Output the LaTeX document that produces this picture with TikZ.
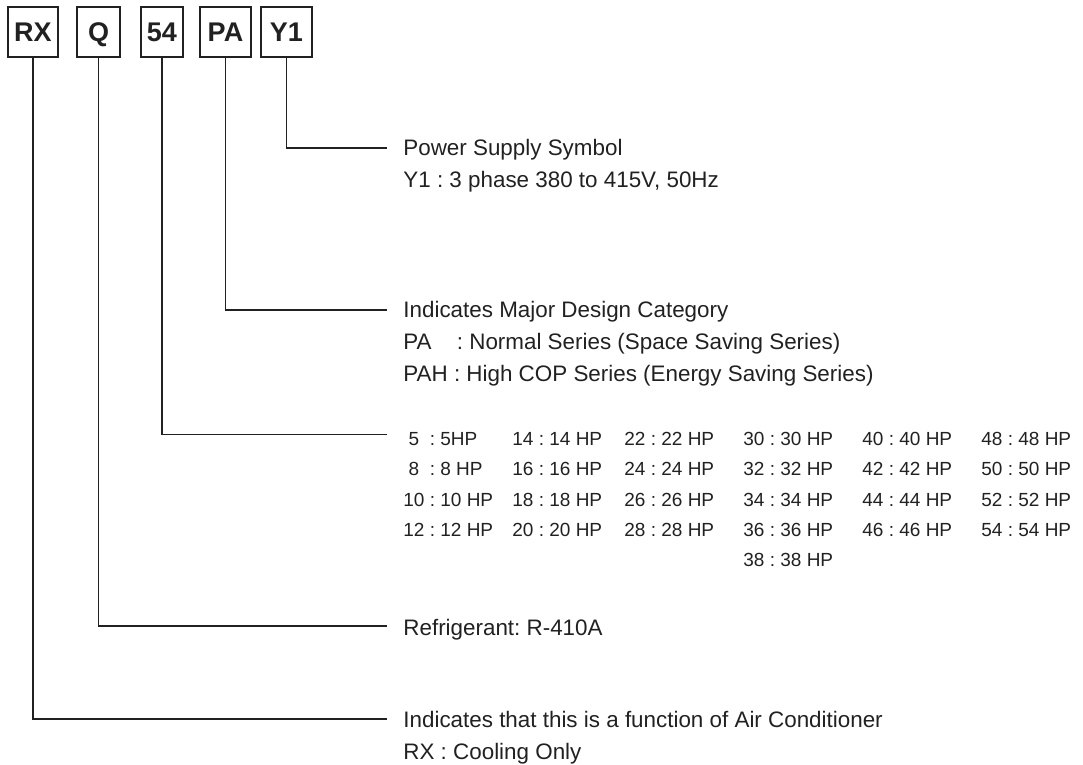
\documentclass[tikz,border=0pt]{standalone}
\usepackage{fontspec}
\setmainfont{Liberation Sans}
\usepackage{xcolor}
\usetikzlibrary{positioning}
\frenchspacing
\definecolor{inkgray}{gray}{0.13}
\tikzset{%
	codebox/.style = {draw=inkgray, line width=0.9pt, rectangle, minimum height=25pt, inner sep=0pt, text height=9.7pt, text depth=0pt, text=inkgray, font=\fontsize{13.5}{16}\selectfont\bfseries},
	link/.style    = {draw=inkgray, line width=0.8pt},
	desc/.style    = {anchor=base west, inner sep=0pt, text=inkgray, font=\fontsize{11.2}{16}\selectfont},
	hpentry/.style = {anchor=base west, inner sep=0pt, text=inkgray, font=\fontsize{9.5}{15}\selectfont},
}
\begin{document}
\begin{tikzpicture}[x=0.5pt,y=-0.5pt]
	\useasboundingbox (0,0) rectangle (1083,765);
	
	\node[codebox,minimum width=25pt]   (rx) at (33,32)    {RX};
	\node[codebox,minimum width=21.5pt] (q)  at (98.5,32)  {Q};
	\node[codebox,minimum width=21pt]   (hp) at (162,32)   {54};
	\node[codebox,minimum width=25.5pt] (pa) at (225.5,32) {PA};
	\node[codebox,minimum width=25.5pt] (y1) at (286.5,32) {Y1};
	
	\coordinate (y1end) at (387,148);
	\coordinate (paend) at (387,310);
	\coordinate (hpend) at (387,434.5);
	\coordinate (qend)  at (387,626);
	\coordinate (rxend) at (387,719);
	
	\draw[link] (y1.south) |- (y1end);
	\draw[link] (pa.south) |- (paend);
	\draw[link] (hp.south) |- (hpend);
	\draw[link] (q.south)  |- (qend);
	\draw[link] (rx.south) |- (rxend);
	
	\node[desc] (y1head) at (403,156) {Power Supply Symbol};
	\node[desc] (y1note) at (403,188) {Y1 : 3 phase 380 to 415V, 50Hz};
	
	\node[desc] (pahead)  at (403,317.5) {Indicates Major Design Category};
	\node[desc] (panote)  at (403,349.5) {\makebox[2.111em][l]{PA} : Normal Series (Space Saving Series)};
	\node[desc] (pahnote) at (403,381.5) {PAH : High COP Series (Energy Saving Series)};
	
	% capacity table
	\node[hpentry] (hp5)  at (403,445.5) {\makebox[1.112em]{5} : 5HP};
	\node[hpentry] (hp8)  at (403,475.8) {\makebox[1.112em]{8} : 8 HP};
	\node[hpentry] (hp10) at (403,506.1) {10 : 10 HP};
	\node[hpentry] (hp12) at (403,536.4) {12 : 12 HP};
	\foreach \x/\first/\rows in {512/14/3, 624/22/3, 743/30/4, 862/40/3, 981/48/3}{
		\foreach \r in {0,...,\rows}{
			\pgfmathtruncatemacro{\n}{\first+2*\r}
			\node[hpentry] (hp\n) at (\x,445.5+30.3*\r) {\n{} : \n~HP};
		}
	}
	
	\node[desc] (qnote) at (403,635) {Refrigerant: R-410A};
	
	\node[desc] (rxhead) at (403,727) {Indicates that this is a function of Air Conditioner};
	\node[desc] (rxnote) at (403,759) {RX : Cooling Only};
\end{tikzpicture}
\end{document}
